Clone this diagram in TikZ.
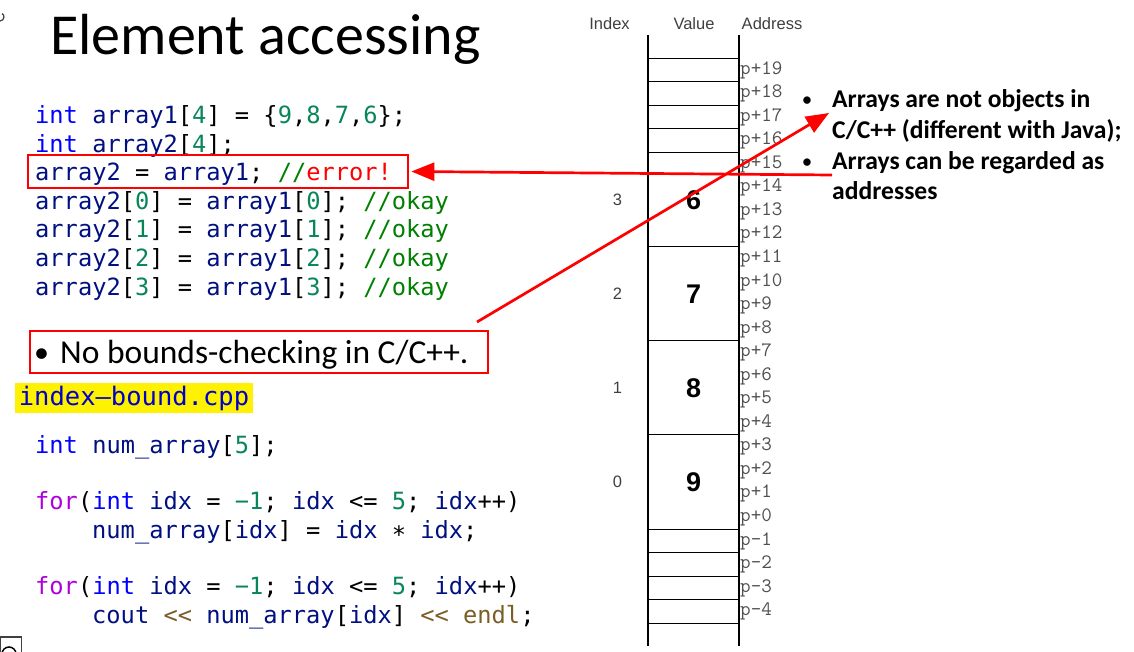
\documentclass[tikz,border=0pt]{standalone}
\usepackage{fontspec}
\setmonofont{DejaVu Sans Mono}
\newfontfamily\calfont{Carlito}
\newfontfamily\arialfont{Liberation Sans}
\usetikzlibrary{arrows.meta}
\definecolor{kw}{HTML}{0000FF}
\definecolor{vr}{HTML}{001080}
\definecolor{nm}{HTML}{098658}
\definecolor{cm}{HTML}{008000}
\definecolor{ct}{HTML}{AF00DB}
\definecolor{fn}{HTML}{795E26}
\definecolor{errred}{HTML}{FF0000}
\definecolor{hdrgray}{HTML}{404040}
\definecolor{addrgray}{HTML}{505050}
\definecolor{fileblue}{HTML}{0000CC}
\newcommand\ckw[1]{\textcolor{kw}{#1}}
\newcommand\cvr[1]{\textcolor{vr}{#1}}
\newcommand\cnm[1]{\textcolor{nm}{#1}}
\newcommand\ccm[1]{\textcolor{cm}{#1}}
\newcommand\cct[1]{\textcolor{ct}{#1}}
\newcommand\cfn[1]{\textcolor{fn}{#1}}
\begin{document}
\begin{tikzpicture}[x=1pt,y=-1pt,
  codeline/.style={anchor=base west, inner sep=0, font=\fontsize{23.7}{28}\ttfamily},
  addr/.style={anchor=west, inner sep=0, text=addrgray, font=\fontsize{20.5}{24}\fontfamily{lmtt}\selectfont},
  hdr/.style={inner sep=0, text=hdrgray, font=\arialfont\fontsize{16.5}{20}\selectfont},
  idxlab/.style={inner sep=0, text=hdrgray, font=\arialfont\fontsize{16.5}{20}\selectfont},
  vallab/.style={inner sep=0, font=\arialfont\bfseries\fontsize{27}{30}\selectfont},
  redbox/.style={draw=errred, line width=2.7, inner sep=0},
  redarrow/.style={draw=errred, line width=2.7, -{Triangle[length=23,width=18]}},
  memline/.style={draw=black, line width=1.1},
  rbul/.style={anchor=base west, inner sep=0, font=\calfont\bfseries\fontsize{25.6}{30}\selectfont},
  rdot/.style={anchor=base, inner sep=0, font=\calfont\fontsize{21}{30}\selectfont}
]
\useasboundingbox (0,0) rectangle (1134,652);
\fill[white] (0,0) rectangle (1134,652);

% title
\node[anchor=base west, inner sep=0, font=\calfont\fontsize{58}{64}\selectfont] (title) at (50,55) {Element accessing};

% code block 1
\node[codeline] (c1) at (35,124) {\ckw{int} \cvr{array1}[\cnm{4}] = \{\cnm{9},\cnm{8},\cnm{7},\cnm{6}\};};
\node[codeline] (c2) at (35,152.5) {\ckw{int} \cvr{array2}[\cnm{4}];};
\node[codeline] (c3) at (35,181) {\cvr{array2} = \cvr{array1}; \ccm{//}\textcolor{errred}{error!}};
\node[codeline] (c4) at (35,209.5) {\cvr{array2}[\cnm{0}] = \cvr{array1}[\cnm{0}]; \ccm{//okay}};
\node[codeline] (c5) at (35,238) {\cvr{array2}[\cnm{1}] = \cvr{array1}[\cnm{1}]; \ccm{//okay}};
\node[codeline] (c6) at (35,266.5) {\cvr{array2}[\cnm{2}] = \cvr{array1}[\cnm{2}]; \ccm{//okay}};
\node[codeline] (c7) at (35,295) {\cvr{array2}[\cnm{3}] = \cvr{array1}[\cnm{3}]; \ccm{//okay}};

\node[redbox, minimum width=380, minimum height=33] (err) at (218,171.5) {};

% no bounds box
\node[redbox, minimum width=458, minimum height=42] (nb) at (259,352) {};
\node[anchor=base, inner sep=0, font=\calfont\fontsize{30}{40}\selectfont] (nbbul) at (41.5,362) {•};
\node[anchor=base west, inner sep=0, font=\calfont\fontsize{33.5}{40}\selectfont] (nbtxt) at (60,363) {No bounds-checking in C/C++.};

% file name
\node[fill=yellow, inner sep=0, minimum width=238, minimum height=30, text=fileblue, font=\fontsize{25.5}{30}\ttfamily] (file) at (134,398) {index–bound.cpp};

% code block 2
\node[codeline] (d1) at (35,453) {\ckw{int} \cvr{num\_array}[\cnm{5}];};
\node[codeline] (d2) at (35,509) {\cct{for}(\ckw{int} \cvr{idx} = \cnm{−1}; \cvr{idx} <= \cnm{5}; \cvr{idx}++)};
\node[codeline] (d3) at (92,538) {\cvr{num\_array}[\cvr{idx}] = \cvr{idx} ∗ \cvr{idx};};
\node[codeline] (d4) at (35,594) {\cct{for}(\ckw{int} \cvr{idx} = \cnm{−1}; \cvr{idx} <= \cnm{5}; \cvr{idx}++)};
\node[codeline] (d5) at (92,623) {\cvr{cout} \cfn{<<} \cvr{num\_array}[\cvr{idx}] \cfn{<<} \cfn{endl};};

% memory column headers
\node[hdr] (hi) at (609.5,24) {Index};
\node[hdr] (hv) at (694,24) {Value};
\node[hdr] (ha) at (772,24) {Address};

% memory column
\draw[memline] (648,35) -- (648,646);
\draw[memline] (739,35) -- (739,646);
\foreach \k in {19,18,17,16,15,11,7,3,-1,-2,-3,-4,-5} {
  \draw[memline] (648,{58.3+(19-\k)*23.54}) -- (739,{58.3+(19-\k)*23.54});
}
\foreach \k in {19,...,0} {
  \node[addr] at (740,{58.3+(19-\k)*23.54+11.8}) {p+\k};
}
\foreach \k in {1,2,3,4} {
  \node[addr] at (740,{58.3+(19+\k)*23.54+11.8}) {p-\k};
}
% values and indices
\node[vallab] (v3) at (693.5,200) {6};
\node[vallab] (v2) at (693.5,294) {7};
\node[vallab] (v1) at (693.5,388) {8};
\node[vallab] (v0) at (693.5,482) {9};
\node[idxlab] (i3) at (617.5,200) {3};
\node[idxlab] (i2) at (617.5,294) {2};
\node[idxlab] (i1) at (617.5,388) {1};
\node[idxlab] (i0) at (617.5,482) {0};

% right bullets
\node[rdot] (rb1) at (807,107) {•};
\node[rbul] (rt1) at (832,108) {Arrays are not objects in};
\node[rbul] (rt2) at (832,139) {C/C++ (different with Java);};
\node[rdot] (rb2) at (807,169) {•};
\node[rbul] (rt3) at (832,170) {Arrays can be regarded as};
\node[rbul] (rt4) at (832,200) {addresses};

% arrows
\coordinate (a1s) at (832,175);
\coordinate (a2s) at (477,322);
\coordinate (a2e) at (829,113);
\draw[redarrow] (a1s) -- ([xshift=2]err.east);
\draw[redarrow] (a2s) -- (a2e);

% partial marks at left edge
\draw[hdrgray, line width=1.2] (0,21) arc[start angle=90, end angle=-60, radius=4];
\draw[hdrgray, line width=1.5] (0,637) rectangle (21.5,654);
\draw[black, line width=1.5] (9,654) circle[radius=7];
\end{tikzpicture}
\end{document}
